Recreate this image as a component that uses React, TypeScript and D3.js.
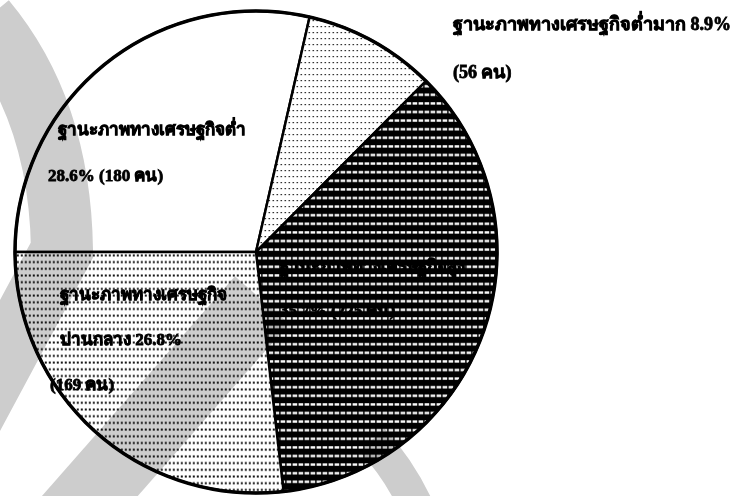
import React from 'react';
import * as d3 from 'd3';

// economic status groups, clockwise from 9 o'clock
const categories = ['ต่ำ', 'ต่ำมาก', 'สูง', 'ปานกลาง'];
const counts = [180, 56, 225, 169];
const percents = ['28.6%', '8.9%', '35.7%', '26.8%'];
const fills = ['#ffffff', 'url(#dotsLight)', 'url(#darkRows)', 'url(#dotsMid)'];

// label lines for each slice (Thai)
const labelLines = [
  ['ฐานะภาพทางเศรษฐกิจต่ำ', `${percents[0]} (${counts[0]} คน)`],
  [`ฐานะภาพทางเศรษฐกิจต่ำมาก ${percents[1]}`, `(${counts[1]} คน)`],
  ['ฐานะภาพทางเศรษฐกิจสูง', `${percents[2]} (${counts[2]} คน)`],
  ['ฐานะภาพทางเศรษฐกิจ', `ปานกลาง ${percents[3]}`, `(${counts[3]} คน)`],
];
// label anchor (left x, first baseline y, line gap, font size)
const labelPos: [number, number, number, number][] = [
  [58, 135, 46, 17],
  [453, 30, 48, 18],
  [280, 272, 44, 17],
  [60, 300, 45, 17],
];

// scanned-page watermark, decoration only
const watermark: { d: string; w: number }[] = [
  { d: 'M -15 20 Q 60 110 62 250 L -40 440', w: 62 },
  { d: 'M 60 530 L 262 300', w: 72 },
  { d: 'M 372 440 Q 400 470 418 510', w: 34 },
];

export default function App() {
  const width = 744;
  const height = 496;
  const cx = 256;
  const cy = 252;
  const r = 241;

  const pie = d3
    .pie<number>()
    .sort(null)
    .startAngle(-Math.PI / 2)
    .endAngle((3 * Math.PI) / 2)
    .value((d) => d);
  const arcs = pie(counts);
  const arc = d3.arc<d3.PieArcDatum<number>>().innerRadius(0).outerRadius(r);

  return (
    <svg
      width={width}
      height={height}
      style={{ position: 'absolute', left: 0, top: 0, background: '#fff' }}
    >
      <defs>
        <pattern id="dotsLight" width={4} height={6} patternUnits="userSpaceOnUse">
          <rect width={4} height={6} fill="#fff" />
          <rect x={0.5} y={2} width={1.6} height={1.2} fill="#333" />
        </pattern>
        <pattern id="dotsMid" width={4} height={6.7} patternUnits="userSpaceOnUse">
          <rect width={4} height={6.7} fill="#fff" />
          <rect x={0.8} y={2.4} width={2} height={2} fill="#111" />
        </pattern>
        <pattern id="darkRows" width={6} height={8.6} patternUnits="userSpaceOnUse">
          <rect width={6} height={8.6} fill="#000" />
          <rect x={0.6} y={5} width={4.6} height={2.4} fill="#fff" />
        </pattern>
      </defs>

      <g transform={`translate(${cx},${cy})`}>
        {arcs.map((a, i) => (
          <path
            key={categories[i]}
            d={arc(a) || ''}
            fill={fills[i]}
            stroke="#000"
            strokeWidth={2.5}
            strokeLinejoin="round"
          />
        ))}
        <circle r={r} fill="none" stroke="#000" strokeWidth={3.5} />
      </g>

      <g
        fontFamily="'Liberation Serif', 'DejaVu Serif', serif"
        fontWeight="bold"
        fill="#000"
        stroke="#000"
        strokeWidth={0.8}
      >
        {labelLines.map((lines, i) =>
          lines.map((t, j) => (
            <text
              key={`${i}-${j}`}
              x={labelPos[i][0] - (i === 3 && j === 2 ? 10 : 0) - (i === 0 && j === 1 ? 10 : 0)}
              y={labelPos[i][1] + j * labelPos[i][2]}
              fontSize={labelPos[i][3]}
            >
              {t}
            </text>
          ))
        )}
      </g>

      <g style={{ mixBlendMode: 'multiply' }} fill="none" stroke="#cdcdcd">
        {watermark.map((w, i) => (
          <path key={i} d={w.d} strokeWidth={w.w} />
        ))}
      </g>
    </svg>
  );
}
